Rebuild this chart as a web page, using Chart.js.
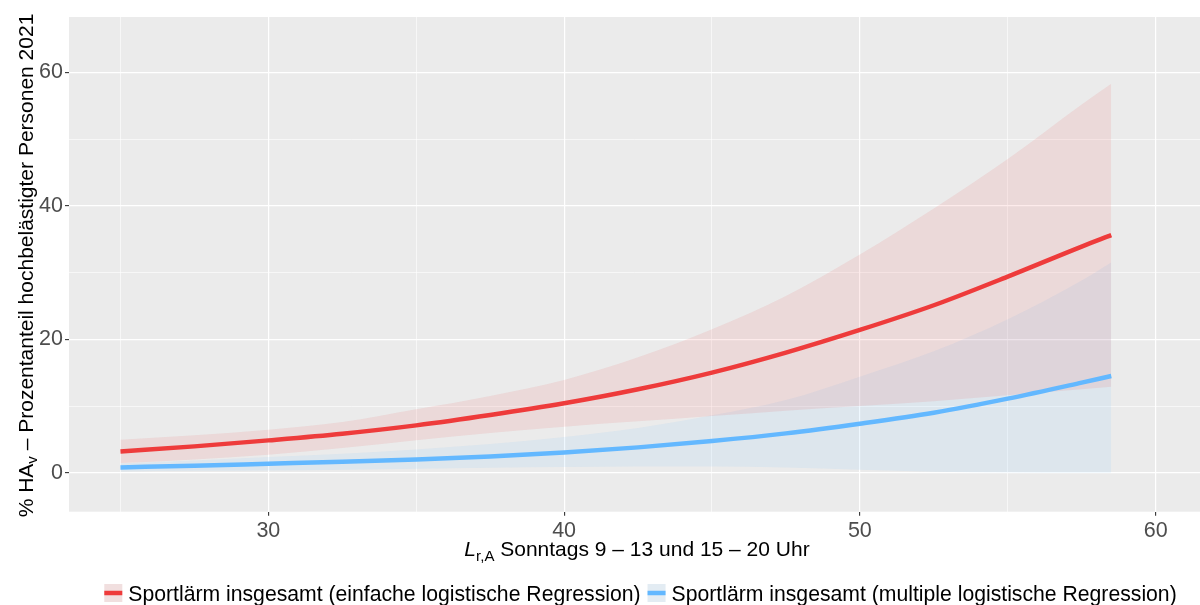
<!DOCTYPE html>
<html>
<head>
<meta charset="utf-8">
<title>Sportlärm – Prozentanteil hochbelästigter Personen</title>
<script src="https://cdn.jsdelivr.net/npm/chart.js@4.4.1/dist/chart.umd.min.js"></script>
<style>
  html, body { margin: 0; padding: 0; background: #ffffff; }
</style>
</head>
<body>
<canvas id="myChart" width="1200" height="605"></canvas>
<script>
// Pegel L_r,A in dB (Stützstellen der Kurven)
const pegel = [25, 27.5, 30, 32.5, 35, 37.5, 40, 42.5, 45, 47.5, 50, 52.5, 55, 57.5, 58.5];

// einfache logistische Regression: Schätzung + Konfidenzband in %
const einfachFit   = [3.2, 3.95, 4.85, 5.85, 7.1, 8.65, 10.4, 12.5, 15.0, 18.0, 21.4, 25.1, 29.4, 33.9, 35.6];
const einfachUnten = [1.45, 2.0, 2.7, 3.7, 4.85, 5.95, 6.9, 7.7, 8.5, 9.3, 10.0, 10.7, 11.6, 12.5, 12.9];
const einfachOben  = [4.95, 5.6, 6.45, 7.6, 9.5, 11.5, 13.9, 17.3, 21.5, 26.5, 32.7, 39.6, 47.0, 55.2, 58.3];

// multiple logistische Regression
const multipleFit   = [0.8, 1.05, 1.35, 1.65, 2.0, 2.45, 3.05, 3.8, 4.75, 5.9, 7.35, 9.0, 11.1, 13.5, 14.5];
const multipleUnten = [0.2, 0.3, 0.35, 0.45, 0.6, 0.75, 0.85, 0.95, 0.95, 0.8, 0.45, 0.15, 0.05, 0, 0];
const multipleOben  = [1.4, 1.85, 2.35, 2.85, 3.5, 4.3, 5.35, 6.7, 8.6, 10.9, 14.4, 18.2, 23.0, 28.8, 31.5];

const legendLabels = [
  'Sportlärm insgesamt (einfache logistische Regression)',
  'Sportlärm insgesamt (multiple logistische Regression)'
];
const xTickLabels = [30, 40, 50, 60];
const yTickLabels = [0, 20, 40, 60];

const rot = '#EE3B3B';
const blau = '#63B8FF';
const rotBand = 'rgba(238, 59, 59, 0.10)';
const blauBand = 'rgba(99, 184, 255, 0.10)';
const FONT = "'Liberation Sans', Arial, sans-serif";

const pts = arr => arr.map((y, i) => ({ x: pegel[i], y: y }));

// Text mit Tiefstellung / Kursivschrift stückweise zeichnen
function drawParts(ctx, parts, x, y) {
  let total = 0;
  parts.forEach(p => { ctx.font = p.font; p.w = ctx.measureText(p.text).width; total += p.w; });
  let cx = x - total / 2;
  parts.forEach(p => {
    ctx.font = p.font;
    ctx.fillText(p.text, cx, y + (p.dy || 0));
    cx += p.w;
  });
}

const ggPanel = {
  id: 'ggPanel',
  beforeDraw(chart) {
    const { ctx, chartArea: a } = chart;
    ctx.save();
    ctx.fillStyle = '#ffffff';
    ctx.fillRect(0, 0, chart.width, chart.height);
    ctx.fillStyle = '#EBEBEB';
    ctx.fillRect(a.left, a.top, a.right - a.left, a.bottom - a.top);
    ctx.restore();
  },
  afterDraw(chart) {
    const { ctx, chartArea: a } = chart;
    ctx.save();
    ctx.fillStyle = '#000000';
    ctx.textBaseline = 'alphabetic';

    // x-Achsentitel
    drawParts(ctx, [
      { text: 'L', font: 'italic 21px ' + FONT },
      { text: 'r,A', font: '15px ' + FONT, dy: 5 },
      { text: ' Sonntags 9 – 13 und 15 – 20 Uhr', font: '21px ' + FONT }
    ], 637, 556);

    // y-Achsentitel
    ctx.save();
    ctx.translate(33, 265.5);
    ctx.rotate(-Math.PI / 2);
    drawParts(ctx, [
      { text: '% HA', font: '21px ' + FONT },
      { text: 'v', font: '15px ' + FONT, dy: 4 },
      { text: ' – Prozentanteil hochbelästigter Personen 2021', font: '21px ' + FONT }
    ], 0, 0);
    ctx.restore();

    // Legende unten
    const keys = [
      { band: rotBand, line: rot, label: legendLabels[0] },
      { band: blauBand, line: blau, label: legendLabels[1] }
    ];
    const box = 18, gapText = 6, gapItem = 7;
    ctx.font = '21.2px ' + FONT;
    let total = 0;
    keys.forEach((k, i) => {
      k.w = ctx.measureText(k.label).width;
      total += box + gapText + k.w + (i > 0 ? gapItem : 0);
    });
    let x = 640.5 - total / 2;
    const top = 584;
    keys.forEach(k => {
      ctx.fillStyle = '#F2F2F2';
      ctx.fillRect(x, top, box, box);
      ctx.fillStyle = k.band;
      ctx.fillRect(x, top, box, box);
      ctx.strokeStyle = k.line;
      ctx.lineWidth = 4.5;
      ctx.beginPath();
      ctx.moveTo(x, top + box / 2);
      ctx.lineTo(x + box, top + box / 2);
      ctx.stroke();
      x += box + gapText;
      ctx.fillStyle = '#000000';
      ctx.fillText(k.label, x, 601);
      x += k.w + gapItem;
    });
    ctx.restore();
  }
};

const isMajorX = c => c.tick && c.tick.value % 10 === 0;
const isMajorY = c => c.tick && c.tick.value % 20 === 0;

const ctx = document.getElementById('myChart').getContext('2d');

const myChart = new Chart(ctx, {
  type: 'line',
  data: {
    datasets: [
      {
        label: legendLabels[0],
        data: pts(einfachFit),
        borderColor: rot,
        borderWidth: 4.5,
        pointRadius: 0,
        fill: false,
        cubicInterpolationMode: 'monotone'
      },
      {
        label: legendLabels[1],
        data: pts(multipleFit),
        borderColor: blau,
        borderWidth: 4.5,
        pointRadius: 0,
        fill: false,
        cubicInterpolationMode: 'monotone'
      },
      {
        label: 'einfach oben',
        data: pts(einfachOben),
        borderWidth: 0,
        borderColor: 'rgba(0,0,0,0)',
        backgroundColor: rotBand,
        pointRadius: 0,
        fill: '+1',
        cubicInterpolationMode: 'monotone'
      },
      {
        label: 'einfach unten',
        data: pts(einfachUnten),
        borderWidth: 0,
        borderColor: 'rgba(0,0,0,0)',
        pointRadius: 0,
        fill: false,
        cubicInterpolationMode: 'monotone'
      },
      {
        label: 'multiple oben',
        data: pts(multipleOben),
        borderWidth: 0,
        borderColor: 'rgba(0,0,0,0)',
        backgroundColor: blauBand,
        pointRadius: 0,
        fill: '+1',
        cubicInterpolationMode: 'monotone'
      },
      {
        label: 'multiple unten',
        data: pts(multipleUnten),
        borderWidth: 0,
        borderColor: 'rgba(0,0,0,0)',
        pointRadius: 0,
        fill: false,
        cubicInterpolationMode: 'monotone'
      }
    ]
  },
  options: {
    responsive: false,
    animation: false,
    layout: { padding: { top: 17, right: 0, bottom: 0, left: 0 } },
    font: { family: FONT },
    scales: {
      x: {
        type: 'linear',
        min: 23.26,
        max: 61.5,
        afterFit: s => { s.height = 93.3; },
        border: { display: false },
        grid: {
          color: '#FFFFFF',
          lineWidth: c => isMajorX(c) ? 1.2 : 0.6,
          drawTicks: true,
          tickLength: 4,
          tickWidth: 1.1,
          tickColor: c => isMajorX(c) ? '#333333' : 'rgba(0,0,0,0)'
        },
        ticks: {
          stepSize: 5,
          includeBounds: false,
          autoSkip: false,
          maxRotation: 0,
          padding: 2,
          color: '#4D4D4D',
          font: { family: FONT, size: 21.5 },
          callback: v => xTickLabels.includes(v) ? String(v) : ''
        }
      },
      y: {
        type: 'linear',
        min: -5.84,
        max: 68.3,
        afterFit: s => { s.width = 69; },
        border: { display: false },
        grid: {
          color: '#FFFFFF',
          lineWidth: c => isMajorY(c) ? 1.2 : 0.6,
          drawTicks: true,
          tickLength: 4,
          tickWidth: 1.1,
          tickColor: c => isMajorY(c) ? '#333333' : 'rgba(0,0,0,0)'
        },
        ticks: {
          stepSize: 10,
          includeBounds: false,
          autoSkip: false,
          padding: 2,
          color: '#4D4D4D',
          font: { family: FONT, size: 21.5 },
          callback: v => yTickLabels.includes(v) ? String(v) : ''
        }
      }
    },
    plugins: {
      legend: { display: false },
      tooltip: { enabled: false },
      title: { display: false }
    }
  },
  plugins: [ggPanel]
});
</script>
</body>
</html>
